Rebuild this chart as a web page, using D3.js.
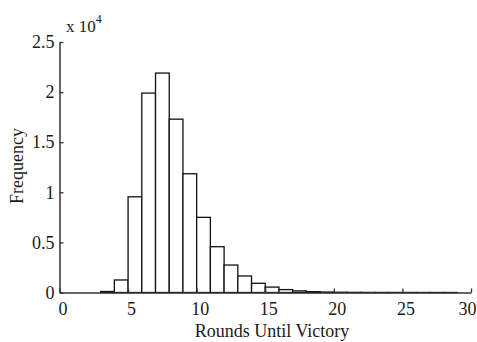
<!DOCTYPE html>
<html>
<head>
<meta charset="utf-8">
<script src="https://cdn.jsdelivr.net/npm/d3@7"></script>
<style>
  body { margin: 0; background: #fff; }
  svg text { font-family: "Liberation Serif", "Times New Roman", serif; fill: #1a1a1a; }
</style>
</head>
<body>
<div id="chart"></div>
<script>
// histogram bins (left edge of each bin, width 1 round)
const binStarts = [3, 4, 5, 6, 7, 8, 9, 10, 11, 12, 13, 14, 15, 16, 17, 18, 19, 20, 21, 22, 23, 24, 25, 26, 27, 28, 29];
const counts = [100, 1250, 9550, 19900, 21900, 17300, 11850, 7500, 4570, 2740, 1650, 920, 540, 290, 160, 85, 45, 25, 15, 10, 6, 4, 3, 2, 2, 1, 0];
const xTicks = [0, 5, 10, 15, 20, 25, 30];
const yTicks = [0, 5000, 10000, 15000, 20000, 25000];

const width = 477, height = 342;

var svg = d3.select("#chart").append("svg")
  .attr("width", width).attr("height", height);

var x = d3.scaleLinear().domain([0, 30]).range([59.5, 471]);
var y = d3.scaleLinear().domain([0, 25000]).range([292.5, 42]);

// bars
svg.selectAll("rect.bar")
  .data(binStarts)
  .enter().append("rect")
  .attr("class", "bar")
  .attr("x", function (d) { return x(d); })
  .attr("width", function (d) { return x(d + 1) - x(d); })
  .attr("y", function (d, i) { return y(counts[i]); })
  .attr("height", function (d, i) { return y(0) - y(counts[i]); })
  .attr("fill", "#fff")
  .attr("stroke", "#111")
  .attr("stroke-width", 1.3);

// x axis, ticks pointing inward
var xAxis = svg.append("g")
  .attr("transform", "translate(0," + y(0) + ")")
  .call(d3.axisBottom(x).tickValues(xTicks).tickSizeInner(-4).tickSizeOuter(0).tickPadding(10));
xAxis.select(".domain").attr("stroke", "#333").attr("stroke-width", 1.5);
xAxis.selectAll(".tick line").attr("stroke", "#333").attr("stroke-width", 1.3);
xAxis.selectAll(".tick text")
  .attr("font-size", 18)
  .attr("font-family", "Liberation Serif")
  .attr("fill", "#1a1a1a")
  .attr("dx", function (d) { return d == 30 ? -4 : 3; });

// y axis, ticks pointing inward
var yAxis = svg.append("g")
  .attr("transform", "translate(" + x(0) + ",0)")
  .call(d3.axisLeft(y).tickValues(yTicks).tickSizeInner(-4).tickSizeOuter(0).tickPadding(5)
    .tickFormat(function (d) { return d / 10000; }));
yAxis.select(".domain").attr("stroke", "#333").attr("stroke-width", 1.5);
yAxis.selectAll(".tick line").attr("stroke", "#333").attr("stroke-width", 1.3);
yAxis.selectAll(".tick text")
  .attr("font-size", 18)
  .attr("font-family", "Liberation Serif")
  .attr("fill", "#1a1a1a");

// exponent label
var expo = svg.append("text")
  .attr("x", 66)
  .attr("y", 32)
  .attr("font-size", 17);
expo.append("tspan").text("x 10");
expo.append("tspan").attr("font-size", 12).attr("dy", -9).text("4");

// axis titles
svg.append("text")
  .attr("x", 272)
  .attr("y", 337)
  .attr("text-anchor", "middle")
  .attr("font-size", 18)
  .text("Rounds Until Victory");

svg.append("text")
  .attr("transform", "translate(23,166) rotate(-90)")
  .attr("text-anchor", "middle")
  .attr("font-size", 18)
  .text("Frequency");
</script>
</body>
</html>
